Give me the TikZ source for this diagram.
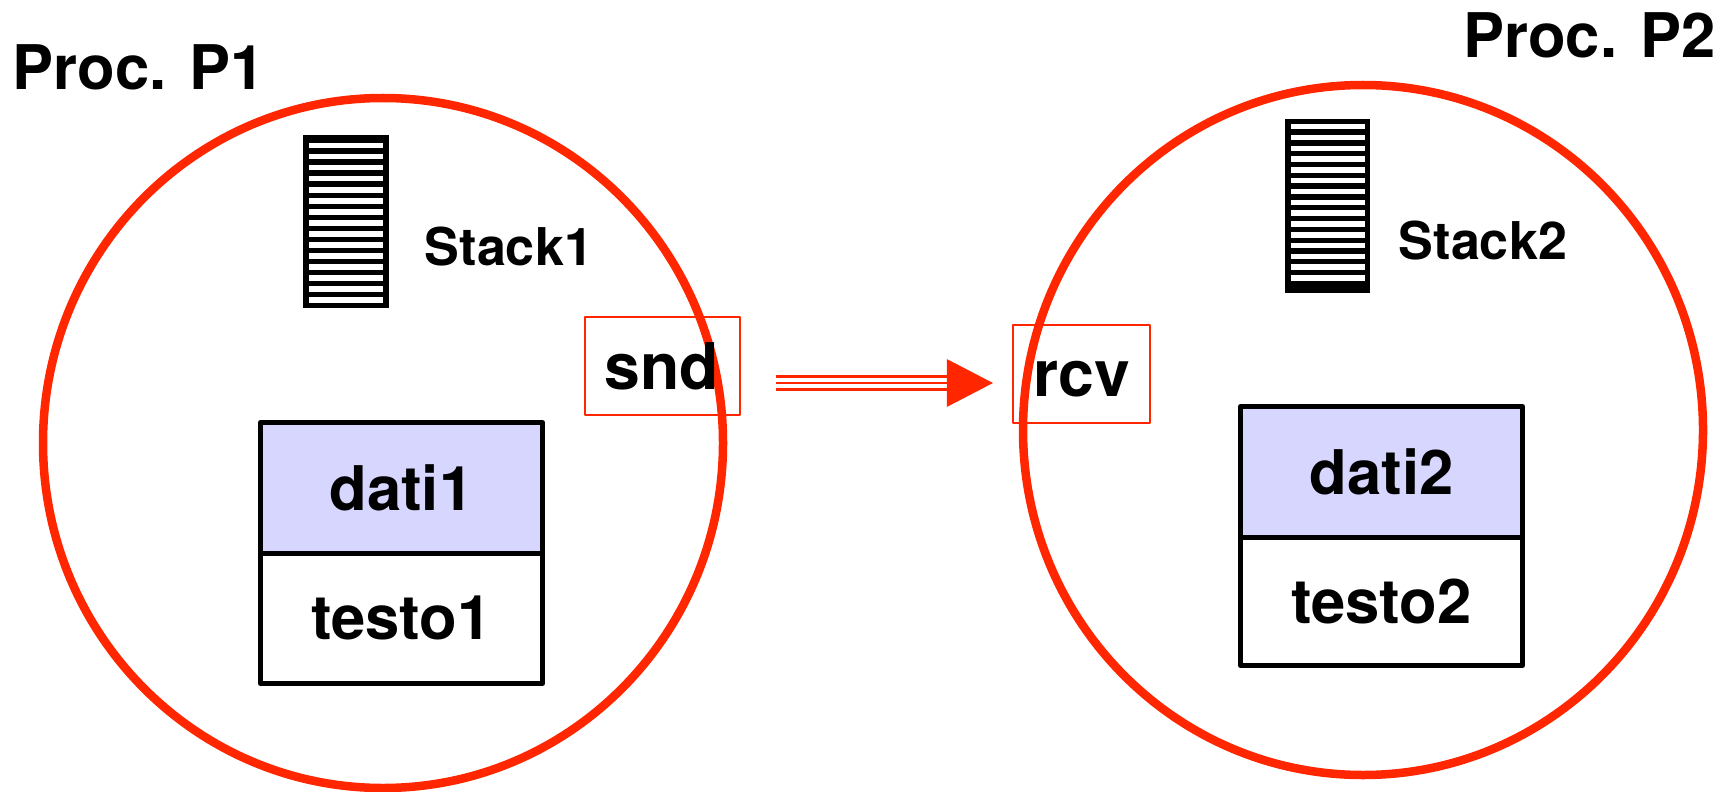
\documentclass[tikz,border=0pt]{standalone}
\usepackage{fontspec}
\setmainfont{TeX Gyre Heros}
\usetikzlibrary{arrows.meta, calc, positioning}
\definecolor{procred}{RGB}{255,38,0}
\definecolor{datafill}{RGB}{214,214,255}
\newlength{\pix}
\setlength{\pix}{0.01cm}

\begin{document}
\begin{tikzpicture}[x=\pix, y=-\pix, line join=round, font=\bfseries,
	proc/.style={procred, line width=8.5\pix},
	title/.style={font=\bfseries\fontsize{17.5}{19}\selectfont, inner sep=0pt},
	stacklabel/.style={font=\bfseries\fontsize{14.8}{17}\selectfont, inner sep=0pt},
	stackbox/.style={fill=black, inner sep=0pt, outer sep=0pt},
	msgbox/.style={draw=procred, line width=2\pix, inner sep=0pt, outer sep=0pt,
		minimum height=98\pix, text height=13.2pt, text depth=0pt,
		font=\bfseries\fontsize{18.3}{21}\selectfont},
	seg/.style={draw=black, line width=5\pix, inner sep=0pt, outer sep=0pt,
		minimum width=282\pix, minimum height=130.5\pix,
		font=\bfseries\fontsize{17.5}{19}\selectfont},
	msg/.style={procred, line width=2.5\pix}]
\useasboundingbox (0,0) rectangle (1728,791);
%========================
% Left: process P1
%========================
\begin{scope}[shift={(383,443)}]
	\draw[proc] (0,0) ellipse [x radius=340, y radius=345];
	\node[title, anchor=base west] (titleA) at (-371,-353) {Proc. P1};
	% stack
	\node[stackbox, minimum width=86\pix, minimum height=173\pix] (stackA) at (-37,-221.5) {};
	\foreach \i in {0,...,14}
		\fill[white] ($(stackA.north west)+(6,8+11*\i)$) rectangle ++(74,5.5);
	\node[stacklabel, anchor=base west] (stacklabelA) at (41,-178) {Stack1};
	% send port
	\node[msgbox, minimum width=155\pix] (snd) at (279,-77) {snd};
	% data and text segments
	\node[seg, fill=datafill] (datiA) at (18.5,44.75) {dati1};
	\node[seg, below=0pt of datiA] (testoA) {testo1};
\end{scope}

%========================
% Right: process P2
%========================
\begin{scope}[shift={(1363,430)}]
	\draw[proc] (0,0) ellipse [x radius=340, y radius=345];
	\node[title, anchor=base east] (titleB) at (353,-372) {Proc. P2};
	% stack
	\node[stackbox, minimum width=85\pix, minimum height=174\pix] (stackB) at (-35.5,-224) {};
	\foreach \i in {0,...,14}
		\fill[white] ($(stackB.north west)+(6,5+10.8*\i)$) rectangle ++(74,5.5);
	\node[stacklabel, anchor=base west] (stacklabelB) at (35,-171) {Stack2};
	% receive port
	\node[msgbox, minimum width=137\pix] (rcv) at (-281.5,-56.5) {rcv};
	% data and text segments
	\node[seg, fill=datafill] (datiB) at (18.5,41.75) {dati2};
	\node[seg, below=0pt of datiB, minimum height=128.5\pix] (testoB) {testo2};
\end{scope}

% message snd -> rcv (triple line)
\coordinate (msgfrom) at ($(snd.east)+(36.5,17)$);
\coordinate (msgto) at ($(rcv.west)+(-20,9.5)$);
\draw[msg, -{Triangle[length=13.1pt, width=13.4pt]}] (msgfrom) -- (msgto);
\foreach \dy in {-6.5,6.5}
	\draw[msg] ($(msgfrom)+(0,\dy)$) -- ($(msgto)+(-46,\dy)$);
\end{tikzpicture}
\end{document}
